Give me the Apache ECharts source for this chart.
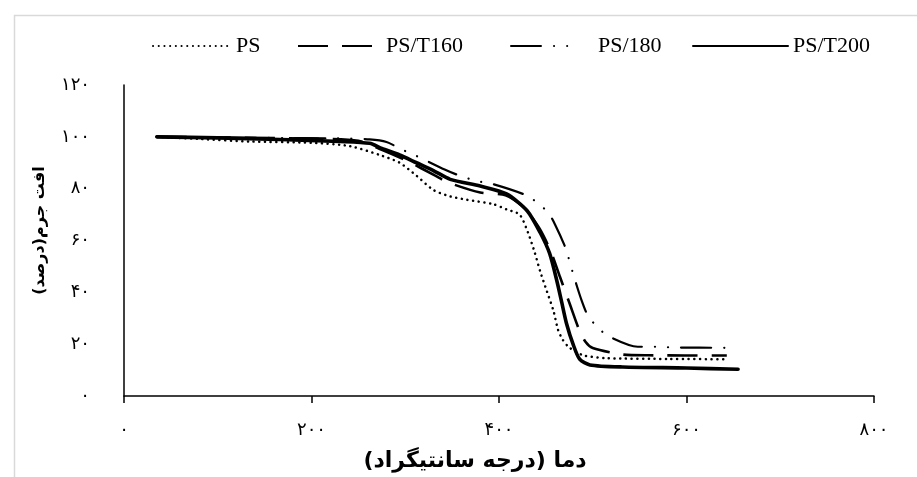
<!DOCTYPE html>
<html>
<head>
<meta charset="utf-8">
<script src="https://cdn.jsdelivr.net/npm/echarts@6/dist/echarts.min.js"></script>
<style>
html,body{margin:0;padding:0;background:#fff;}
#chart{width:917px;height:477px;}
</style>
</head>
<body>
<div id="chart"></div>
<script>
// ---- data ----
const seriesNames = ['PS', 'PS/T160', 'PS/180', 'PS/T200'];

const psX   = [35, 80, 134, 200, 241, 276, 294, 312, 330, 348, 366, 394, 408, 422, 431, 438, 444, 451, 458, 463, 468, 475, 490, 515, 580, 643];
const psY   = [100, 99.2, 98.2, 97.7, 96.4, 92.6, 90, 85, 79.5, 77, 75.7, 74, 72, 70, 63, 55.5, 48, 40.5, 33, 25.5, 21.7, 18.7, 15.7, 14.6, 14.3, 14.2];

const t160X = [35, 200, 250, 275, 302, 332, 345, 380, 407, 426, 435, 445, 455, 465, 476, 485, 492, 500, 532, 560, 643];
const t160Y = [100, 99.3, 98.5, 95, 90.7, 85, 82.5, 78.5, 77.5, 73, 69, 63.5, 56, 46, 35, 26, 21, 18.5, 16, 15.7, 15.6];

const p180X = [35, 150, 227, 262, 280, 297, 312, 342, 358, 376, 394, 428, 441, 453, 460, 470, 474, 480, 488, 495, 504, 516, 548, 567, 588, 643];
const p180Y = [100, 99.6, 99.4, 99, 98, 95, 92.6, 87.4, 85, 83, 81.7, 77.6, 74.6, 70.5, 66, 58, 53.6, 46, 37, 30.8, 27, 23.2, 19, 19, 18.7, 18.6];

const t200X = [35, 100, 166, 230, 262, 275, 294, 312, 330, 348, 380, 408, 430, 444, 454, 462, 467, 472, 479, 486, 497, 532, 600, 655];
const t200Y = [100, 99.6, 99, 98.2, 97.5, 95.5, 93, 90, 87, 83.6, 81, 78, 71.5, 63, 55, 44, 36, 28, 20, 14.2, 12, 11.2, 10.8, 10.3];

const xTickLabels = ['۰', '۲۰۰', '۴۰۰', '۶۰۰', '۸۰۰'];
const yTickLabels = ['۰', '۲۰', '۴۰', '۶۰', '۸۰', '۱۰۰', '۱۲۰'];
const xTitle = 'دما (درجه سانتیگراد)';
const yTitle = 'افت جرم(درصد)';

// ---- build ----
function zip(xs, ys) { return xs.map((x, i) => [x, ys[i]]); }
const dataSets = [zip(psX, psY), zip(t160X, t160Y), zip(p180X, p180Y), zip(t200X, t200Y)];
const styles = [
  { width: 2.5, type: [0.1, 5.6], cap: 'round' },
  { width: 2.6, type: [30, 14], cap: 'butt' },
  { width: 2.2, type: [30, 13, 0.1, 13, 0.1, 13], cap: 'round' },
  { width: 3.6, type: 'solid', cap: 'round' }
];
const legendLeft = [147, 292, 505, 687];
const legendWidth = [78, 83, 64, 95];
const legendTextPad = [0, 0, 18, 0];

const chart = echarts.init(document.getElementById('chart'), null, { renderer: 'canvas' });
const option = {
  animation: false,
  backgroundColor: '#ffffff',
  graphic: [{
    type: 'rect', left: 12, top: 13, shape: { width: 1000, height: 1000 },
    style: { fill: 'none', stroke: '#d9d9d9', lineWidth: 1.5 }, silent: true
  }],
  legend: seriesNames.map((n, i) => ({
    data: [n], left: legendLeft[i], top: 30, itemWidth: legendWidth[i], itemHeight: 16,
    itemStyle: { opacity: 0 },
    textStyle: { fontFamily: 'Liberation Serif', fontSize: 22, color: '#000', padding: [0, 0, 0, legendTextPad[i]] },
    selectedMode: false
  })),
  grid: { left: 124, right: 43, top: 85, bottom: 72 },
  xAxis: {
    type: 'value', min: 0, max: 800, interval: 200,
    name: xTitle, nameLocation: 'middle', nameGap: 54,
    nameTextStyle: { fontFamily: 'DejaVu Sans', fontWeight: 'bold', fontSize: 22, color: '#000', padding: [0, 48, 0, 0] },
    axisLine: { lineStyle: { color: '#000', width: 1.5 } },
    axisTick: { show: true, length: 7, lineStyle: { color: '#000', width: 1.5 } },
    axisLabel: { margin: 25, fontFamily: 'DejaVu Sans', fontSize: 18, color: '#000',
      formatter: v => xTickLabels[Math.round(v / 200)] },
    splitLine: { show: false }
  },
  yAxis: {
    type: 'value', min: 0, max: 120, interval: 20,
    name: yTitle, nameLocation: 'middle', nameGap: 76, nameRotate: 90,
    nameTextStyle: { fontFamily: 'DejaVu Sans', fontWeight: 'bold', fontSize: 16, color: '#000', padding: [0, 0, 0, 20] },
    axisLine: { show: true, lineStyle: { color: '#000', width: 1.5 } },
    axisTick: { show: false },
    axisLabel: { margin: 34, fontFamily: 'DejaVu Sans', fontSize: 18, color: '#000',
      formatter: v => yTickLabels[Math.round(v / 20)] },
    splitLine: { show: false }
  },
  series: seriesNames.map((n, i) => ({
    name: n, type: 'line', data: dataSets[i], symbol: 'none', smooth: 0.25,
    lineStyle: Object.assign({ color: '#000' }, styles[i]),
    itemStyle: { color: '#000' },
    z: i === 3 ? 3 : 2
  }))
};
chart.setOption(option);
</script>
</body>
</html>
